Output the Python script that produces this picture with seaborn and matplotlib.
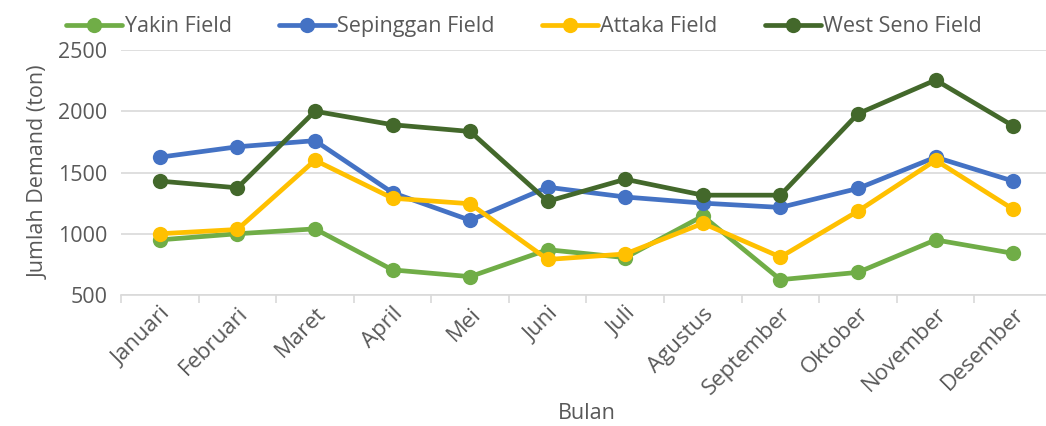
import numpy as np
import pandas as pd
import matplotlib
matplotlib.use("Agg")
import matplotlib.pyplot as plt
import seaborn as sns

# data
bulan = ["Januari", "Februari", "Maret", "April", "Mei", "Juni", "Juli",
         "Agustus", "September", "Oktober", "November", "Desember"]
yakin = [950, 1000, 1040, 705, 650, 870, 805, 1145, 625, 685, 950, 840]
sepinggan = [1625, 1710, 1760, 1335, 1110, 1380, 1300, 1250, 1215, 1370, 1625, 1430]
attaka = [1000, 1035, 1600, 1290, 1245, 790, 835, 1085, 810, 1185, 1600, 1200]
west_seno = [1430, 1375, 2000, 1890, 1835, 1265, 1445, 1315, 1315, 1980, 2255, 1880]

fields = ["Yakin Field", "Sepinggan Field", "Attaka Field", "West Seno Field"]
colors = ["#70AD47", "#4472C4", "#FFC000", "#43682B"]

df = pd.DataFrame({
    "Bulan": bulan * 4,
    "Demand": yakin + sepinggan + attaka + west_seno,
    "Field": np.repeat(fields, len(bulan)),
})

sns.set_theme(style="white")
plt.rcParams["font.family"] = ["Open Sans", "DejaVu Sans"]
txt = "#595959"
grid = "#D9D9D9"

fig = plt.figure(figsize=(10.46, 4.26), dpi=100)
ax = fig.add_axes([0.1157, 0.3075, 0.890, 0.5751])

sns.lineplot(data=df, x="Bulan", y="Demand", hue="Field", hue_order=fields,
             palette=colors, marker="o", markersize=11, markeredgewidth=0,
             linewidth=3.4, sort=False, ax=ax)

ax.set_ylim(500, 2500)
ax.set_xlim(-0.5, len(bulan) - 0.5)
ax.set_yticks([500, 1000, 1500, 2000, 2500])
ax.yaxis.grid(True, color=grid, linewidth=1.2)
ax.set_axisbelow(True)
for s in ["top", "right", "left"]:
    ax.spines[s].set_visible(False)
ax.spines["bottom"].set_color(grid)
ax.spines["bottom"].set_linewidth(1.2)

ax.set_xticks(range(len(bulan)))
ax.set_xticklabels(bulan, rotation=45, ha="right", rotation_mode="anchor")
ax.set_xticks(np.arange(-0.5, len(bulan), 1), minor=True)
ax.tick_params(axis="x", which="major", length=0, pad=6, labelsize=16, labelcolor=txt)
ax.tick_params(axis="x", which="minor", length=6, width=1.2, color=grid, bottom=True)
ax.tick_params(axis="y", length=0, pad=10, labelsize=15.5, labelcolor=txt)

ax.set_xlabel("Bulan", fontsize=15.5, color=txt, labelpad=3)
ax.set_ylabel("Jumlah Demand (ton)", fontsize=15.5, color=txt, labelpad=6)

handles, labels = ax.get_legend_handles_labels()
ax.get_legend().remove()
fig.legend(handles, labels, loc="upper left", bbox_to_anchor=(0.045, 1.007),
           ncol=4, frameon=False, fontsize=15.5, labelcolor=txt,
           handlelength=2.6, handletextpad=0.1, columnspacing=2.2)

fig.savefig("out.png", dpi=100)
